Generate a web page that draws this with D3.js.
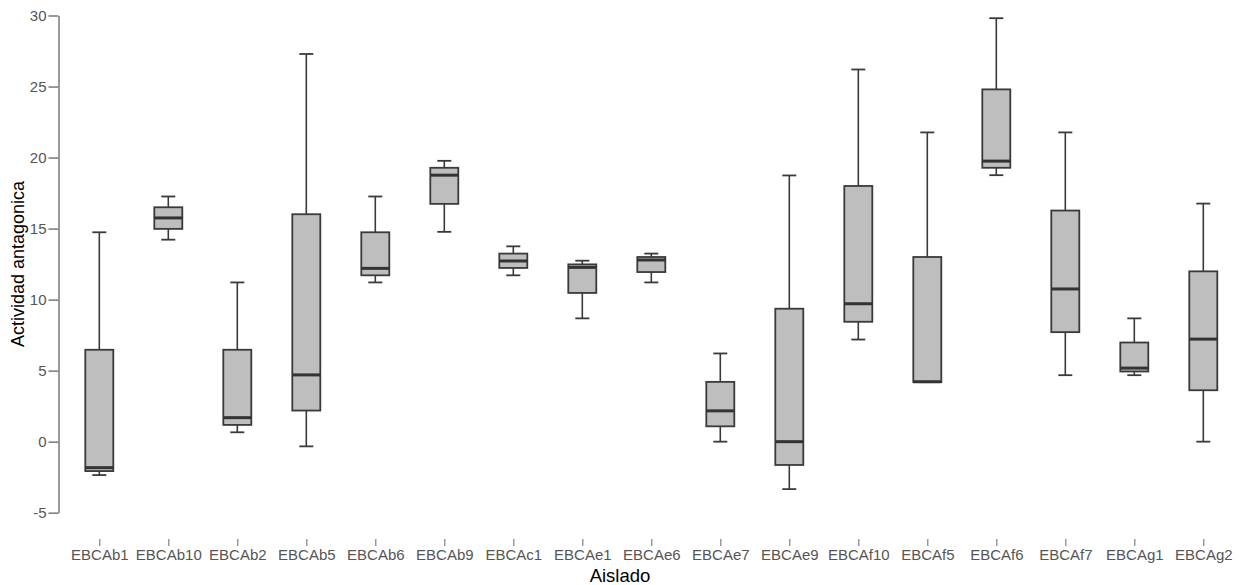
<!DOCTYPE html>
<html>
<head>
<meta charset="utf-8">
<script src="https://cdn.jsdelivr.net/npm/d3@7"></script>
<style>
  html, body { margin: 0; padding: 0; background: #fff; }
  svg { display: block; font-family: "Liberation Sans", Arial, sans-serif; }
</style>
</head>
<body>
<svg id="chart" width="1246" height="585"></svg>
<script>
// Box summaries per isolate
const categories = ["EBCAb1","EBCAb10","EBCAb2","EBCAb5","EBCAb6","EBCAb9","EBCAc1","EBCAe1","EBCAe6","EBCAe7","EBCAe9","EBCAf10","EBCAf5","EBCAf6","EBCAf7","EBCAg1","EBCAg2"];
const whiskerLow  = [-2.35, 14.22, 0.66, -0.33, 11.21, 14.77, 11.71, 8.68, 11.21, 0.0, -3.34, 7.19, 4.19, 18.76, 4.68, 4.68, 0.0];
const q1          = [-2.07, 14.98, 1.18, 2.19, 11.71, 16.74, 12.23, 10.47, 11.94, 1.08, -1.64, 8.44, 4.19, 19.28, 7.71, 4.94, 3.62];
const medians     = [-1.83, 15.75, 1.69, 4.70, 12.20, 18.76, 12.72, 12.27, 12.79, 2.17, 0.0, 9.71, 4.22, 19.75, 10.75, 5.18, 7.22];
const q3          = [6.47, 16.50, 6.47, 16.01, 14.74, 19.28, 13.24, 12.48, 13.00, 4.21, 9.36, 18.00, 13.00, 24.80, 16.27, 6.98, 11.99];
const whiskerHigh = [14.74, 17.26, 11.21, 27.29, 17.26, 19.77, 13.75, 12.74, 13.24, 6.21, 18.74, 26.20, 21.77, 29.81, 21.77, 8.68, 16.76];
const yTicks = [-5, 0, 5, 10, 15, 20, 25, 30];

const rows = categories.map((c, i) => ({
  name: c, lo: whiskerLow[i], q1: q1[i], med: medians[i], q3: q3[i], hi: whiskerHigh[i]
}));

const svg = d3.select("#chart");

const x = d3.scalePoint().domain(categories).range([99.3, 1203.3]);
const y = d3.scaleLinear().domain([-5, 30]).range([512.7, 15.5]);

const boxW = 28, capW = 14;
const stroke = "#3a3a3a";

// Y axis (plain hyphen for negative labels)
const yAxis = svg.append("g")
  .attr("transform", "translate(58.5,0)")
  .call(d3.axisLeft(y).tickValues(yTicks).tickSize(10).tickSizeOuter(0).tickPadding(2).tickFormat(d => String(d)));
yAxis.select(".domain").attr("stroke", "#808080").attr("stroke-width", 1.6);
yAxis.selectAll(".tick line").attr("stroke", "#808080").attr("stroke-width", 1.6);
yAxis.selectAll(".tick text").attr("fill", "#555").style("font-size", "15px");

// X axis (ticks and labels only)
const xAxis = svg.append("g")
  .attr("transform", "translate(0,539)")
  .call(d3.axisBottom(x).tickSize(7).tickPadding(3));
xAxis.select(".domain").remove();
xAxis.selectAll(".tick line").attr("stroke", "#808080").attr("stroke-width", 1.2);
xAxis.selectAll(".tick text").attr("fill", "#555").style("font-size", "15px");

// Axis titles
svg.append("text")
  .attr("transform", "translate(24,264) rotate(-90)")
  .attr("text-anchor", "middle")
  .attr("fill", "#000")
  .style("font-size", "18px")
  .text("Actividad antagonica");

svg.append("text")
  .attr("x", 620).attr("y", 582)
  .attr("text-anchor", "middle")
  .attr("fill", "#000")
  .style("font-size", "18.5px")
  .text("Aislado");

// Boxes
const g = svg.append("g").selectAll("g.box").data(rows).join("g").attr("class", "box");

// whiskers
g.append("line")
  .attr("x1", d => x(d.name)).attr("x2", d => x(d.name))
  .attr("y1", d => y(d.hi)).attr("y2", d => y(d.q3))
  .attr("stroke", stroke).attr("stroke-width", 1.6);
g.append("line")
  .attr("x1", d => x(d.name)).attr("x2", d => x(d.name))
  .attr("y1", d => y(d.q1)).attr("y2", d => y(d.lo))
  .attr("stroke", stroke).attr("stroke-width", 1.6);
// caps
g.append("line")
  .attr("x1", d => x(d.name) - capW / 2).attr("x2", d => x(d.name) + capW / 2)
  .attr("y1", d => y(d.hi)).attr("y2", d => y(d.hi))
  .attr("stroke", stroke).attr("stroke-width", 1.8);
g.append("line")
  .attr("x1", d => x(d.name) - capW / 2).attr("x2", d => x(d.name) + capW / 2)
  .attr("y1", d => y(d.lo)).attr("y2", d => y(d.lo))
  .attr("stroke", stroke).attr("stroke-width", 1.8);
// box
g.append("rect")
  .attr("x", d => x(d.name) - boxW / 2)
  .attr("width", boxW)
  .attr("y", d => y(d.q3))
  .attr("height", d => y(d.q1) - y(d.q3))
  .attr("fill", "#bebebe")
  .attr("stroke", stroke).attr("stroke-width", 1.8);
// median
g.append("line")
  .attr("x1", d => x(d.name) - boxW / 2).attr("x2", d => x(d.name) + boxW / 2)
  .attr("y1", d => y(d.med)).attr("y2", d => y(d.med))
  .attr("stroke", "#333").attr("stroke-width", 3);
</script>
</body>
</html>
